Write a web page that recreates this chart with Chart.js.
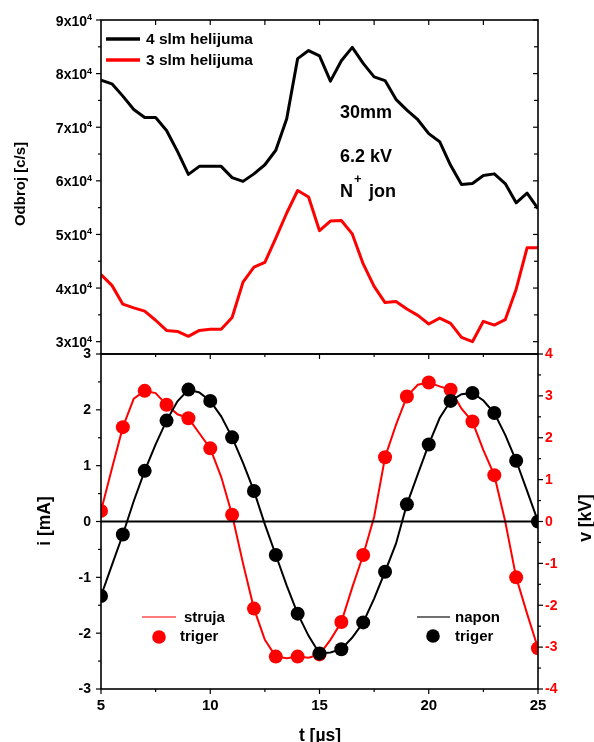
<!DOCTYPE html>
<html>
<head>
<meta charset="utf-8">
<script src="https://cdn.jsdelivr.net/npm/chart.js@4.4.1/dist/chart.umd.min.js"></script>
<style>
    body { margin: 0; background: #fff; }
    #wrap { position: relative; width: 594px; height: 742px; }
    #wrap canvas { position: absolute; left: 0; top: 0; }
</style>
</head>
<body>
<div id="wrap">
    <canvas id="countChart" width="594" height="742"></canvas>
    <canvas id="signalChart" width="594" height="742"></canvas>
</div>
<script>
// time in microseconds, half-step samples
const tSamples = [5, 5.5, 6, 6.5, 7, 7.5, 8, 8.5, 9, 9.5, 10, 10.5, 11, 11.5, 12, 12.5, 13, 13.5, 14, 14.5, 15,
    15.5, 16, 16.5, 17, 17.5, 18, 18.5, 19, 19.5, 20, 20.5, 21, 21.5, 22, 22.5, 23, 23.5, 24, 24.5, 25];

// count rate [c/s]
const count4slm = [78800, 78100, 75800, 73300, 71800, 71800, 69400, 65500, 61200, 62700, 62700, 62700, 60600, 59900,
    61300, 63000, 65700, 71600, 82800, 84300, 83300, 78600, 82400, 84900, 81900, 79400, 78700, 75200, 73200, 71400,
    68800, 67300, 62900, 59300, 59500, 61000, 61300, 59500, 55900, 57700, 54800];
const count3slm = [42500, 40500, 37000, 36300, 35700, 34000, 32100, 31900, 31000, 32100, 32300, 32300, 34500, 41100,
    43900, 44800, 49300, 54000, 58200, 57000, 50700, 52500, 52600, 50100, 44500, 40300, 37300, 37500, 36100, 34900,
    33300, 34400, 33400, 30800, 30000, 33800, 33100, 34100, 39800, 47500, 47500];

// current [mA] and voltage [kV] traces
const strujaLine = [0.19, 0.95, 1.69, 2.2, 2.34, 2.30, 2.09, 1.92, 1.85, 1.58, 1.31, 0.80, 0.12, -0.75, -1.56, -2.12,
    -2.42, -2.45, -2.42, -2.44, -2.38, -2.12, -1.80, -1.18, -0.60, 0.08, 1.15, 1.73, 2.24, 2.45, 2.49, 2.42, 2.36,
    2.02, 1.79, 1.28, 0.83, 0.00, -1.00, -1.65, -2.27];
const naponLine = [-1.78, -1.04, -0.31, 0.49, 1.21, 1.84, 2.41, 2.87, 3.15, 3.08, 2.88, 2.51, 2.01, 1.40, 0.73, -0.07,
    -0.80, -1.53, -2.20, -2.73, -3.15, -3.13, -3.05, -2.77, -2.41, -1.84, -1.20, -0.53, 0.41, 1.13, 1.84, 2.47, 2.88,
    3.04, 3.07, 2.89, 2.59, 2.07, 1.45, 0.73, 0.00];

// trigger samples, once per microsecond
const tTrig = [5, 6, 7, 8, 9, 10, 11, 12, 13, 14, 15, 16, 17, 18, 19, 20, 21, 22, 23, 24, 25];
const strujaTrig = [0.19, 1.69, 2.34, 2.09, 1.85, 1.31, 0.12, -1.56, -2.42, -2.42, -2.38, -1.80, -0.60, 1.15, 2.24,
    2.49, 2.36, 1.79, 0.83, -1.00, -2.27];
const naponTrig = [-1.78, -0.31, 1.21, 2.41, 3.15, 2.88, 2.01, 0.73, -0.80, -2.20, -3.15, -3.05, -2.41, -1.20, 0.41,
    1.84, 2.88, 3.07, 2.59, 1.45, 0.00];

// axis ticks
const timeTicks = [5, 10, 15, 20, 25];
const countTicks = [30000, 40000, 50000, 60000, 70000, 80000, 90000];
const countTickLabels = ['3', '4', '5', '6', '7', '8', '9'];
const currentTicks = [-3, -2, -1, 0, 1, 2, 3];
const voltageTicks = [-4, -3, -2, -1, 0, 1, 2, 3, 4];

const RED = '#ff0000';
const BLACK = '#000000';
const font = size => `bold ${size}px "Liberation Sans", Arial, sans-serif`;

const pts = (xs, ys) => xs.map((x, i) => ({ x: x, y: ys[i] }));
const midpoints = arr => arr.slice(1).map((v, i) => (v + arr[i]) / 2);

function seg(ctx, x1, y1, x2, y2) {
    ctx.beginPath();
    ctx.moveTo(x1, y1);
    ctx.lineTo(x2, y2);
    ctx.stroke();
}

function xTicks(ctx, scale, values, y, len) {
    values.forEach(v => {
        const px = scale.getPixelForValue(v);
        seg(ctx, px, y, px, y + len);
    });
}

function yTicks(ctx, scale, values, x, len) {
    values.forEach(v => {
        const py = scale.getPixelForValue(v);
        seg(ctx, x, py, x + len, py);
    });
}

function rotatedText(ctx, text, x, y) {
    ctx.save();
    ctx.translate(x, y);
    ctx.rotate(-Math.PI / 2);
    ctx.textAlign = 'center';
    ctx.textBaseline = 'alphabetic';
    ctx.fillText(text, 0, 0);
    ctx.restore();
}

const baseOptions = {
    responsive: false,
    animation: false,
    events: [],
    plugins: { legend: { display: false }, tooltip: { enabled: false } },
    elements: { point: { radius: 0 }, line: { tension: 0 } }
};

// upper panel: count rate
const countFrame = {
    id: 'countFrame',
    afterDraw(chart) {
        const ctx = chart.ctx;
        const { left, right, top, bottom } = chart.chartArea;
        const xs = chart.scales.x, ys = chart.scales.y;
        ctx.save();
        ctx.strokeStyle = BLACK;
        ctx.lineWidth = 1.6;
        ctx.strokeRect(left, top, right - left, bottom - top);

        ctx.lineWidth = 1.2;
        yTicks(ctx, ys, countTicks, left, -5);
        yTicks(ctx, ys, midpoints(countTicks), left, -3);
        yTicks(ctx, ys, countTicks, right, -5);
        yTicks(ctx, ys, midpoints(countTicks), right, -4);
        xTicks(ctx, xs, timeTicks.slice(1, -1), top, 5);
        xTicks(ctx, xs, midpoints(timeTicks), top, 5);

        // tick labels like 9x10^4
        ctx.fillStyle = BLACK;
        ctx.textAlign = 'right';
        ctx.textBaseline = 'alphabetic';
        countTicks.forEach((v, i) => {
            const py = ys.getPixelForValue(v);
            ctx.font = font(9);
            const w = ctx.measureText('4').width;
            ctx.fillText('4', 92, py);
            ctx.font = font(14);
            ctx.fillText(countTickLabels[i] + 'x10', 92 - w, py + 5.5);
        });

        ctx.font = font(15);
        rotatedText(ctx, 'Odbroj [c/s]', 25, 184);

        // legend
        ctx.lineWidth = 3.5;
        ctx.strokeStyle = BLACK;
        seg(ctx, 106, 39, 140, 39);
        ctx.strokeStyle = RED;
        seg(ctx, 106, 60, 140, 60);
        ctx.font = font(15.5);
        ctx.textAlign = 'left';
        ctx.textBaseline = 'middle';
        ctx.fillText('4 slm helijuma', 146, 39.5);
        ctx.fillText('3 slm helijuma', 146, 60.5);

        // measurement notes
        ctx.textBaseline = 'alphabetic';
        ctx.font = font(18);
        ctx.fillText('30mm', 340, 118);
        ctx.fillText('6.2 kV', 340, 161.5);
        ctx.fillText('N', 340, 196.5);
        ctx.fillText('jon', 369, 196.5);
        ctx.font = font(13);
        ctx.fillText('+', 354, 183);
        ctx.restore();
    }
};

new Chart(document.getElementById('countChart'), {
    type: 'line',
    data: {
        datasets: [
            { data: pts(tSamples, count4slm), borderColor: BLACK, borderWidth: 3, borderJoinStyle: 'round' },
            { data: pts(tSamples, count3slm), borderColor: RED, borderWidth: 3, borderJoinStyle: 'round' }
        ]
    },
    options: {
        ...baseOptions,
        layout: { padding: { left: 101, right: 56, top: 20, bottom: 388 } },
        scales: {
            x: { type: 'linear', min: 5, max: 25, display: false },
            y: { type: 'linear', min: 27700, max: 90000, display: false }
        }
    },
    plugins: [countFrame]
});

// lower panel: current and voltage
const signalFrame = {
    id: 'signalFrame',
    afterDraw(chart) {
        const ctx = chart.ctx;
        const { left, right, top, bottom } = chart.chartArea;
        const xs = chart.scales.x, yi = chart.scales.yI, yv = chart.scales.yV;
        ctx.save();
        ctx.strokeStyle = BLACK;
        ctx.lineWidth = 1.6;
        ctx.strokeRect(left, top, right - left, bottom - top);
        ctx.lineWidth = 2;
        const y0 = yi.getPixelForValue(0);
        seg(ctx, left, y0, right, y0);

        ctx.lineWidth = 1.2;
        yTicks(ctx, yi, currentTicks, left, -5);
        yTicks(ctx, yi, midpoints(currentTicks), left, -3);
        yTicks(ctx, yv, voltageTicks, right, 5);
        yTicks(ctx, yv, midpoints(voltageTicks), right, 3);
        xTicks(ctx, xs, timeTicks, bottom, 5);
        xTicks(ctx, xs, midpoints(timeTicks), bottom, 3);
        xTicks(ctx, xs, timeTicks.slice(1, -1), top, 5);
        xTicks(ctx, xs, midpoints(timeTicks), top, 3);

        ctx.textBaseline = 'middle';
        ctx.font = font(14);
        ctx.fillStyle = BLACK;
        ctx.textAlign = 'right';
        currentTicks.forEach(v => ctx.fillText(String(v), 91, yi.getPixelForValue(v) + 0.5));
        ctx.fillStyle = RED;
        ctx.textAlign = 'left';
        voltageTicks.forEach(v => ctx.fillText(String(v), 545, yv.getPixelForValue(v) + 0.5));
        ctx.fillStyle = BLACK;
        ctx.textAlign = 'center';
        ctx.font = font(15);
        timeTicks.forEach(v => ctx.fillText(String(v), xs.getPixelForValue(v), 706));

        ctx.font = font(17.5);
        rotatedText(ctx, 'i [mA]', 50, 521);
        rotatedText(ctx, 'v [kV]', 591, 518);
        ctx.textAlign = 'center';
        ctx.textBaseline = 'alphabetic';
        ctx.fillText('t [\u00b5s]', 320, 741);

        // legends
        ctx.font = font(15);
        ctx.textAlign = 'left';
        ctx.textBaseline = 'middle';
        ctx.lineWidth = 1.5;
        ctx.strokeStyle = '#ff5050';
        seg(ctx, 142, 617, 176, 617);
        ctx.fillText('struja', 184, 618);
        ctx.fillStyle = RED;
        ctx.beginPath();
        ctx.arc(159, 637, 6.8, 0, Math.PI * 2);
        ctx.fill();
        ctx.fillStyle = BLACK;
        ctx.fillText('triger', 180, 637);

        ctx.strokeStyle = '#404040';
        seg(ctx, 417, 617, 450, 617);
        ctx.fillText('napon', 455, 618);
        ctx.beginPath();
        ctx.arc(433, 636, 6.8, 0, Math.PI * 2);
        ctx.fill();
        ctx.fillText('triger', 455, 637);
        ctx.restore();
    }
};

new Chart(document.getElementById('signalChart'), {
    type: 'line',
    data: {
        datasets: [
            { data: pts(tTrig, naponTrig), yAxisID: 'yV', showLine: false, pointRadius: 7,
              pointBackgroundColor: BLACK, pointBorderWidth: 0 },
            { data: pts(tSamples, naponLine), yAxisID: 'yV', borderColor: BLACK, borderWidth: 2 },
            { data: pts(tTrig, strujaTrig), yAxisID: 'yI', showLine: false, pointRadius: 7,
              pointBackgroundColor: RED, pointBorderWidth: 0 },
            { data: pts(tSamples, strujaLine), yAxisID: 'yI', borderColor: RED, borderWidth: 2 }
        ]
    },
    options: {
        ...baseOptions,
        layout: { padding: { left: 101, right: 56, top: 354, bottom: 53 } },
        scales: {
            x: { type: 'linear', min: 5, max: 25, display: false },
            yI: { type: 'linear', position: 'left', min: -3, max: 3, display: false },
            yV: { type: 'linear', position: 'right', min: -4, max: 4, display: false }
        }
    },
    plugins: [signalFrame]
});
</script>
</body>
</html>
